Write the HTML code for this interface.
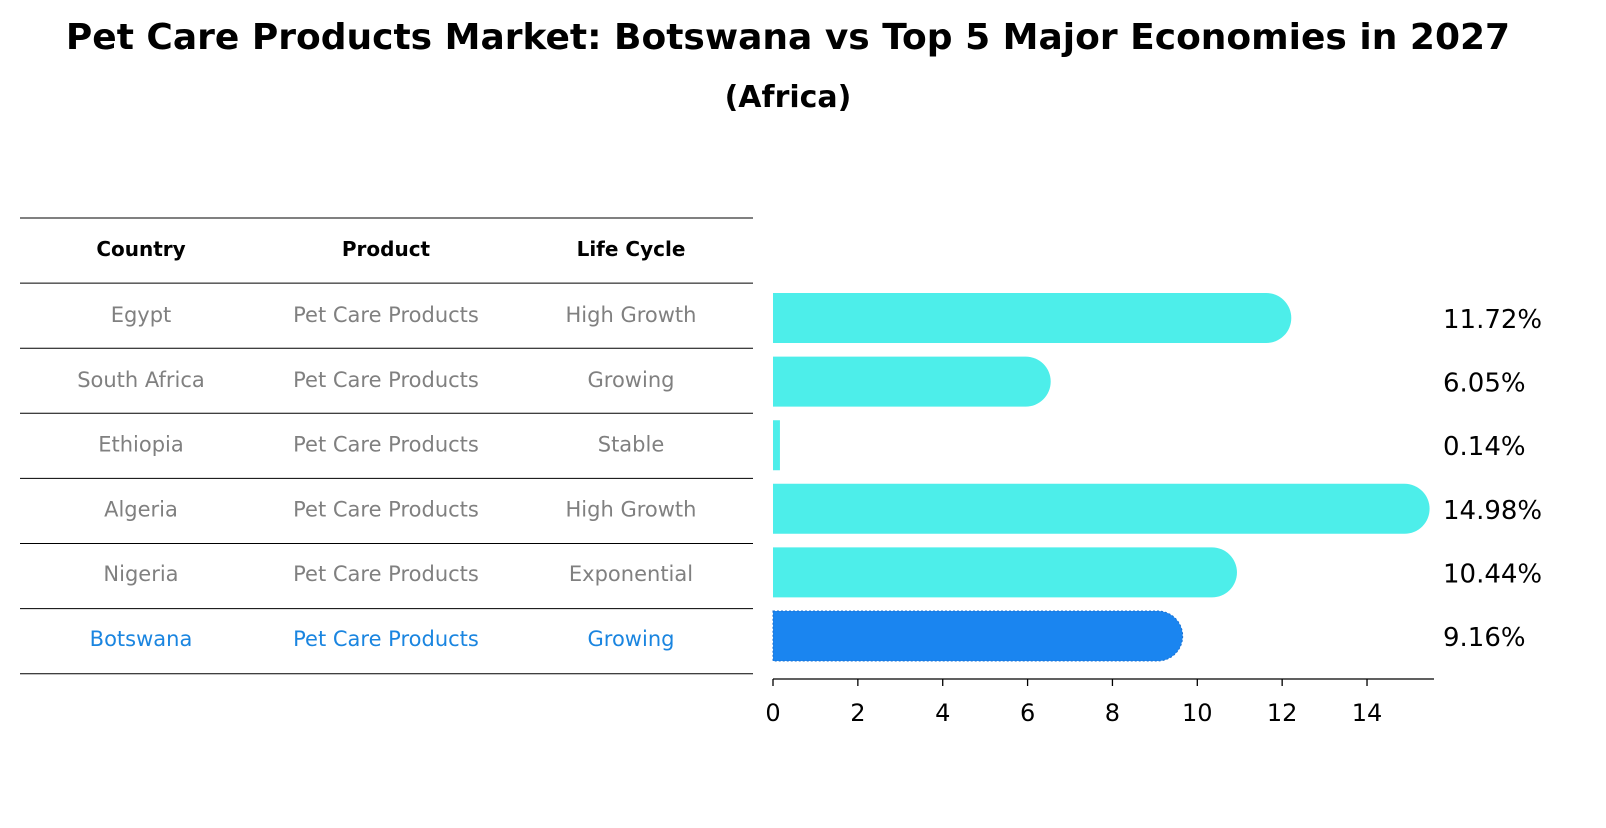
<!DOCTYPE html>
<html><head><meta charset="utf-8"><style>
body{margin:0;background:#fff;font-family:"Liberation Sans","DejaVu Sans",sans-serif}
svg text{font-family:"DejaVu Sans","Liberation Sans",sans-serif}
</style></head><body>
<svg id="c" width="1606" height="823" viewBox="0 0 1606 823" xmlns="http://www.w3.org/2000/svg">
<text x="788" y="49" text-anchor="middle" font-size="36" font-weight="bold">Pet Care Products Market: Botswana vs Top 5 Major Economies in 2027</text>
<text x="788" y="107" text-anchor="middle" font-size="30" font-weight="bold">(Africa)</text>
<g id="table"></g>
<g id="bars"></g>
<g id="axis"></g>
</svg>
<script>
const countries=["Egypt","South Africa","Ethiopia","Algeria","Nigeria","Botswana"];
const products=["Pet Care Products","Pet Care Products","Pet Care Products","Pet Care Products","Pet Care Products","Pet Care Products"];
const lifeCycles=["High Growth","Growing","Stable","High Growth","Exponential","Growing"];
const values=[11.72,6.05,0.14,14.98,10.44,9.16];
const ticks=[0,2,4,6,8,10,12,14];
const NS="http://www.w3.org/2000/svg";
function mk(t,a,p){const e=document.createElementNS(NS,t);for(const k in a)e.setAttribute(k,a[k]);p.appendChild(e);return e;}
const x=v=>773+v*42.43;
const rowY=i=>315+i*64.8;
const tbl=document.getElementById('table');
const cols=[141,386,631];
const heads=["Country","Product","Life Cycle"];
for(let i=0;i<8;i++){
 const yl=218+i*65.1;
 const l=mk('line',{x1:20,x2:753,y1:yl,y2:yl,stroke:'#000','stroke-width':1},tbl);
 
 
}
heads.forEach((h,j)=>{const t=mk('text',{x:cols[j],y:256,'text-anchor':'middle','font-size':20,'font-weight':'bold'},tbl);t.textContent=h;
 
 });
countries.forEach((c,i)=>{
 const col=c==="Botswana"?"#1a85e0":"#808080";
 [c,products[i],lifeCycles[i]].forEach((v,j)=>{const t=mk('text',{x:cols[j],y:rowY(i)+7,'text-anchor':'middle','font-size':21,fill:col},tbl);t.textContent=v;
  
  });
});
const bars=document.getElementById('bars');
values.forEach((v,i)=>{
 const yc=318+i*63.6;
 const col=countries[i]==="Botswana"?"#1a85f0":"#4deeea";
 const w=x(v)-773;const h=50;const r=w>10?25:0;
 let d;
 if(r>0){d=`M773 ${yc-h/2} H${773+w-4} A${r} ${r} 0 0 1 ${773+w-4} ${yc+h/2} H773 Z`;}
 else d=`M773 ${yc-h/2} h${w+1} v${h} h${-w-1} Z`;
 const p=mk('path',{d:d,fill:col},bars);
 if(countries[i]==="Botswana"){p.setAttribute('stroke','#1a70d0');p.setAttribute('stroke-dasharray','2 2');}
 
 
 const t=mk('text',{x:1443,y:yc+10,'font-size':26},bars);t.textContent=v.toFixed(2)+'%';
 
 
});
const ax=document.getElementById('axis');
const al=mk('line',{x1:773,x2:1434,y1:679,y2:679,stroke:'#000','stroke-width':1.3},ax);


ticks.forEach(v=>{const tk=mk('line',{x1:x(v),x2:x(v),y1:679,y2:686,stroke:'#000','stroke-width':1.3},ax);
 
 
 const t=mk('text',{x:x(v),y:721,'text-anchor':'middle','font-size':24},ax);t.textContent=v;
 
 });
</script>
</body></html>
